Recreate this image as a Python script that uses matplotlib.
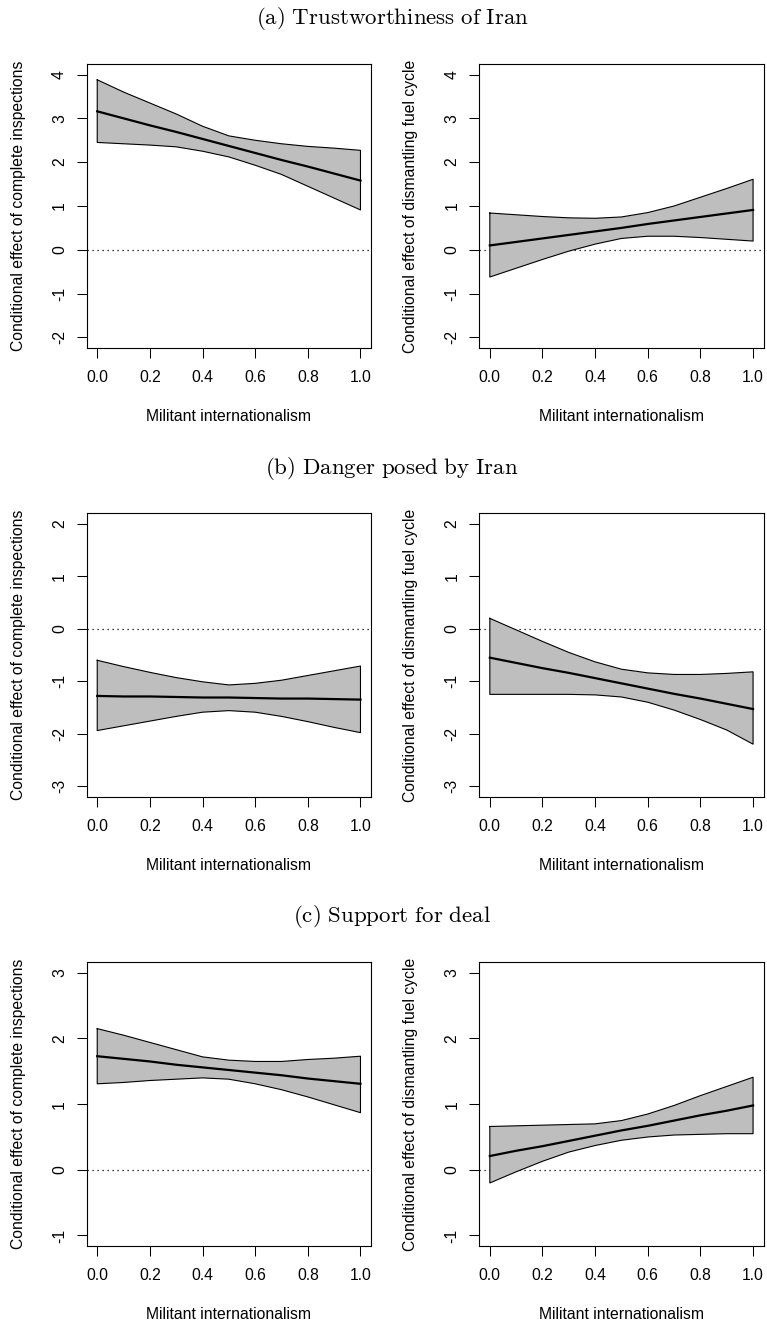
import matplotlib
matplotlib.use("Agg")
import matplotlib.pyplot as plt

plt.rcParams['font.family'] = ['Liberation Sans', 'DejaVu Sans']
plt.rcParams['mathtext.fontset'] = 'cm'

# ---------------- data ----------------
mi = [0.0, 0.1, 0.2, 0.3, 0.4, 0.5, 0.6, 0.7, 0.8, 0.9, 1.0]

# (a) Trustworthiness of Iran
a_insp_mean = [3.16, 3.00, 2.84, 2.69, 2.53, 2.37, 2.21, 2.05, 1.90, 1.74, 1.58]
a_insp_up   = [3.88, 3.60, 3.35, 3.10, 2.82, 2.60, 2.50, 2.42, 2.36, 2.32, 2.27]
a_insp_lo   = [2.45, 2.42, 2.39, 2.35, 2.25, 2.12, 1.93, 1.72, 1.45, 1.18, 0.91]

a_fuel_mean = [0.10, 0.18, 0.26, 0.34, 0.42, 0.50, 0.59, 0.67, 0.75, 0.83, 0.91]
a_fuel_up   = [0.84, 0.80, 0.76, 0.73, 0.72, 0.75, 0.85, 1.00, 1.20, 1.40, 1.61]
a_fuel_lo   = [-0.62, -0.42, -0.22, -0.03, 0.13, 0.26, 0.31, 0.31, 0.28, 0.24, 0.20]

# (b) Danger posed by Iran
b_insp_mean = [-1.28, -1.29, -1.29, -1.30, -1.31, -1.31, -1.32, -1.33, -1.33, -1.34, -1.35]
b_insp_up   = [-0.60, -0.72, -0.83, -0.93, -1.01, -1.07, -1.04, -0.98, -0.89, -0.80, -0.71]
b_insp_lo   = [-1.94, -1.85, -1.76, -1.67, -1.59, -1.56, -1.59, -1.67, -1.77, -1.88, -1.98]

b_fuel_mean = [-0.55, -0.65, -0.75, -0.84, -0.94, -1.04, -1.14, -1.24, -1.33, -1.43, -1.53]
b_fuel_up   = [0.20, -0.02, -0.24, -0.45, -0.63, -0.77, -0.84, -0.87, -0.87, -0.85, -0.82]
b_fuel_lo   = [-1.25, -1.25, -1.25, -1.25, -1.26, -1.30, -1.40, -1.55, -1.73, -1.93, -2.20]

# (c) Support for deal
c_insp_mean = [1.73, 1.69, 1.65, 1.60, 1.56, 1.52, 1.48, 1.44, 1.39, 1.35, 1.31]
c_insp_up   = [2.15, 2.05, 1.94, 1.83, 1.72, 1.67, 1.65, 1.65, 1.68, 1.70, 1.73]
c_insp_lo   = [1.31, 1.33, 1.36, 1.38, 1.40, 1.38, 1.31, 1.22, 1.11, 0.99, 0.87]

c_fuel_mean = [0.21, 0.29, 0.36, 0.44, 0.52, 0.60, 0.67, 0.75, 0.83, 0.90, 0.98]
c_fuel_up   = [0.66, 0.67, 0.68, 0.69, 0.70, 0.75, 0.85, 0.98, 1.13, 1.27, 1.41]
c_fuel_lo   = [-0.20, -0.03, 0.13, 0.27, 0.37, 0.45, 0.50, 0.53, 0.54, 0.55, 0.55]

section_titles = [r'$\mathrm{(a)\ Trustworthiness\ of\ Iran}$',
                  r'$\mathrm{(b)\ Danger\ posed\ by\ Iran}$',
                  r'$\mathrm{(c)\ Support\ for\ deal}$']
xlabel = 'Militant internationalism'
ylabel_left = 'Conditional effect of complete inspections'
ylabel_right = 'Conditional effect of dismantling fuel cycle'
xticks = [0.0, 0.2, 0.4, 0.6, 0.8, 1.0]
xticklabels = ['0.0', '0.2', '0.4', '0.6', '0.8', '1.0']
yticks_rows = [[-2, -1, 0, 1, 2, 3, 4], [-3, -2, -1, 0, 1, 2], [-1, 0, 1, 2, 3]]

rows = [
    [(a_insp_mean, a_insp_up, a_insp_lo), (a_fuel_mean, a_fuel_up, a_fuel_lo)],
    [(b_insp_mean, b_insp_up, b_insp_lo), (b_fuel_mean, b_fuel_up, b_fuel_lo)],
    [(c_insp_mean, c_insp_up, c_insp_lo), (c_fuel_mean, c_fuel_up, c_fuel_lo)],
]

# ---------------- layout ----------------
W, H = 767, 1325
fig = plt.figure(figsize=(W / 100, H / 100), dpi=100)

col_left_px = [86.7, 479.3]
col_width_px = 284.3
row_top_px = [64.0, 513.5, 962.3]
row_bot_px = [348.0, 796.6, 1246.0]
title_y_px = [18.0, 468.0, 916.0]
title_x_px = 392.0

FS = 11.3
for r in range(3):
    fig.text(title_x_px / W, 1 - title_y_px[r] / H, section_titles[r],
             ha='center', va='center', fontsize=16.5)
    ymin, ymax = yticks_rows[r][0], yticks_rows[r][-1]
    ext = 0.04 * (ymax - ymin)
    for c in range(2):
        mean, up, lo = rows[r][c]
        left = col_left_px[c] / W
        bottom = 1 - row_bot_px[r] / H
        width = col_width_px / W
        height = (row_bot_px[r] - row_top_px[r]) / H
        ax = fig.add_axes([left, bottom, width, height])
        ax.fill_between(mi, lo, up, facecolor='#bebebe', edgecolor='none', zorder=1)
        ax.plot(mi + mi[::-1] + [mi[0]], up + lo[::-1] + [up[0]], color='black',
                lw=0.8, zorder=2)
        ax.plot(mi, mean, color='black', lw=1.6, zorder=3)
        ax.axhline(0, color='black', lw=0.9, linestyle=(0, (1, 3)), zorder=0)
        ax.set_xlim(-0.04, 1.04)
        ax.set_ylim(ymin - ext, ymax + ext)
        ax.set_xticks(xticks)
        ax.set_xticklabels(xticklabels)
        ax.set_yticks(yticks_rows[r])
        ax.set_yticklabels([str(v) for v in yticks_rows[r]])
        ax.tick_params(axis='both', direction='out', length=7.2, width=0.75,
                       labelsize=FS, colors='black')
        ax.tick_params(axis='x', pad=9)
        ax.tick_params(axis='y', pad=7, labelrotation=90)
        for lab in ax.get_yticklabels():
            lab.set_va('center')
        for sp in ax.spines.values():
            sp.set_linewidth(0.8)
            sp.set_color('black')
        ax.set_xlabel(xlabel, fontsize=FS)
        ax.set_ylabel(ylabel_left if c == 0 else ylabel_right, fontsize=FS)
        axh = row_bot_px[r] - row_top_px[r]
        ax.xaxis.set_label_coords(0.5, -(68 - 7) / axh)
        ax.xaxis.label.set_va('top')
        ax.yaxis.set_label_coords(-(68 - 7) / col_width_px, 0.5)

fig.savefig('out.png', dpi=100)
